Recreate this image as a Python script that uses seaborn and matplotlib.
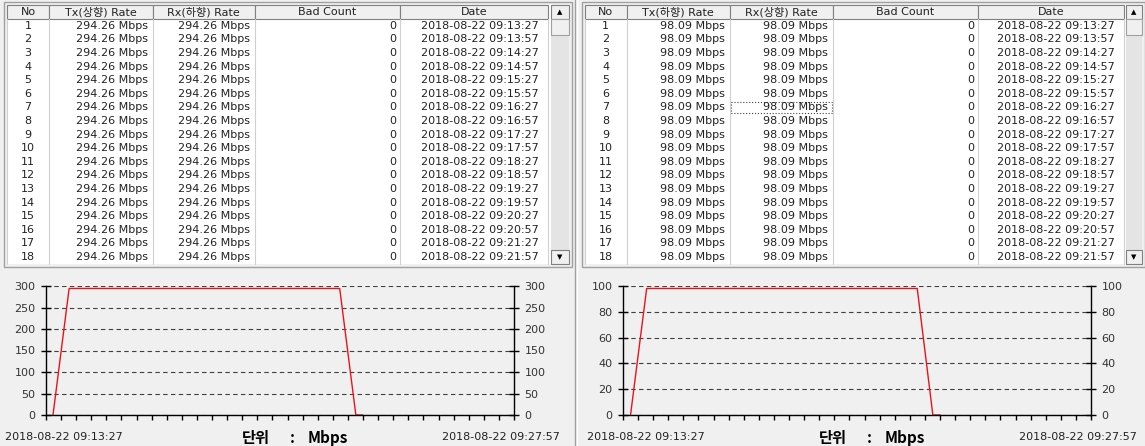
import numpy as np
import pandas as pd
import matplotlib
matplotlib.use("Agg")
import matplotlib.pyplot as plt
from matplotlib.patches import Rectangle
import seaborn as sns

# table rows (both panels list the same 18 samples)
row_no = [1, 2, 3, 4, 5, 6, 7, 8, 9, 10, 11, 12, 13, 14, 15, 16, 17, 18]
row_dates = [
    "2018-08-22 09:13:27", "2018-08-22 09:13:57", "2018-08-22 09:14:27",
    "2018-08-22 09:14:57", "2018-08-22 09:15:27", "2018-08-22 09:15:57",
    "2018-08-22 09:16:27", "2018-08-22 09:16:57", "2018-08-22 09:17:27",
    "2018-08-22 09:17:57", "2018-08-22 09:18:27", "2018-08-22 09:18:57",
    "2018-08-22 09:19:27", "2018-08-22 09:19:57", "2018-08-22 09:20:27",
    "2018-08-22 09:20:57", "2018-08-22 09:21:27", "2018-08-22 09:21:57",
]
bad_count = [0] * 18
left_tx = [294.26] * 18
left_rx = [294.26] * 18
right_tx = [98.09] * 18
right_rx = [98.09] * 18

left_headers = ["No", "Tx(상향) Rate", "Rx(하향) Rate", "Bad Count", "Date"]
right_headers = ["No", "Tx(하향) Rate", "Rx(상향) Rate", "Bad Count", "Date"]

# chart traces
chart_start = "2018-08-22 09:13:27"
chart_end = "2018-08-22 09:27:57"
left_times = ["2018-08-22 09:13:40", "2018-08-22 09:14:10", "2018-08-22 09:22:33",
              "2018-08-22 09:23:03", "2018-08-22 09:23:16"]
left_rate = [0, 294.26, 294.26, 0, 0]
right_times = ["2018-08-22 09:13:41", "2018-08-22 09:14:11", "2018-08-22 09:22:34",
               "2018-08-22 09:23:03", "2018-08-22 09:23:17"]
right_rate = [0, 98.09, 98.09, 0, 0]
left_yticks = [0, 50, 100, 150, 200, 250, 300]
right_yticks = [0, 20, 40, 60, 80, 100]
unit_parts = ["단위", ":", "Mbps"]

sns.set_theme(style="white")
plt.rcParams["font.family"] = ["DejaVu Sans", "Noto Sans CJK KR"]

W, H = 1145, 446
BG = "#f0f0f0"
TXT = "#222222"
fig = plt.figure(figsize=(W / 100, H / 100), dpi=100, facecolor=BG)
bg = fig.add_axes([0, 0, 1, 1])
bg.set_xlim(0, W)
bg.set_ylim(H, 0)
bg.axis("off")

TOP, HEAD_H, ROW_H = 5, 14, 13.6
BODY_TOP = TOP + HEAD_H
BODY_BOT = BODY_TOP + 18 * ROW_H


def draw_table(edges, sb, headers, tx, rx, focus_row=None):
    x_left = edges[0]
    # outer frame
    bg.add_patch(Rectangle((x_left - 3, TOP - 3), sb[1] - x_left + 6, BODY_BOT - TOP + 6,
                           fc="none", ec="#a0a0a0", lw=1))
    bg.add_patch(Rectangle((x_left, BODY_TOP), sb[0] - x_left, BODY_BOT - BODY_TOP,
                           fc="white", ec="none"))
    bg.add_patch(Rectangle((x_left, TOP), sb[0] - x_left, HEAD_H, fc="white", ec="none"))
    for i, lab in enumerate(headers):
        a, b = edges[i], edges[i + 1]
        bg.add_patch(Rectangle((a, TOP), b - a, HEAD_H, fc=BG, ec="#808080", lw=0.8))
        bg.text((a + b) / 2, TOP + HEAD_H / 2, lab, ha="center", va="center",
                fontsize=8, color=TXT)
    for xe in edges:
        bg.plot([xe, xe], [BODY_TOP, BODY_BOT], color="#d0d0d0", lw=0.8)
    for r in range(len(row_no)):
        yc = BODY_TOP + (r + 0.5) * ROW_H
        kw = dict(va="center", fontsize=8, color=TXT)
        bg.text((edges[0] + edges[1]) / 2, yc, str(row_no[r]), ha="center", **kw)
        bg.text(edges[2] - 5, yc, f"{tx[r]:.2f} Mbps", ha="right", **kw)
        bg.text(edges[3] - 5, yc, f"{rx[r]:.2f} Mbps", ha="right", **kw)
        bg.text(edges[4] - 4, yc, str(bad_count[r]), ha="right", **kw)
        bg.text(edges[5] - 9, yc, row_dates[r], ha="right", **kw)
    if focus_row is not None:
        y0 = BODY_TOP + (focus_row - 1) * ROW_H + 1
        bg.add_patch(Rectangle((edges[2] + 1, y0), edges[3] - edges[2] - 2, ROW_H - 2,
                               fc="none", ec="#404040", ls=":", lw=0.8))
    # scrollbar
    w = sb[1] - sb[0]
    bg.add_patch(Rectangle((sb[0], BODY_TOP), w, BODY_BOT - BODY_TOP, fc="#e4e4e4", ec="none"))
    bg.add_patch(Rectangle((sb[0], TOP), w, HEAD_H, fc=BG, ec="#808080", lw=0.8))
    bg.text(sb[0] + w / 2, TOP + HEAD_H / 2, "▲", ha="center", va="center", fontsize=5, color="black")
    bg.add_patch(Rectangle((sb[0], BODY_TOP), w, 16, fc=BG, ec="#a0a0a0", lw=0.8))
    bg.add_patch(Rectangle((sb[0], BODY_BOT - 14), w, 14, fc=BG, ec="#808080", lw=0.8))
    bg.text(sb[0] + w / 2, BODY_BOT - 7, "▼", ha="center", va="center", fontsize=5, color="black")


def draw_chart(x0, x1, times, rates, yticks, label_x):
    ax = fig.add_axes([x0 / W, 1 - 415 / H, (x1 - x0) / W, (415 - 286) / H])
    ax.set_facecolor("none")
    t0 = pd.Timestamp(chart_start)
    total = (pd.Timestamp(chart_end) - t0).total_seconds()
    secs = (pd.to_datetime(times) - t0).total_seconds().to_numpy()
    ax.set_axisbelow(True)
    sns.lineplot(x=secs, y=rates, ax=ax, color="#e8141c", lw=1)
    ax.set_xlim(0, total)
    ax.set_ylim(0, yticks[-1])
    ax.set_yticks(yticks)
    ax.set_xticks(np.linspace(0, total, 32))
    ax.set_xticklabels([])
    ax.set_xlabel("")
    ax.set_ylabel("")
    ax.grid(axis="y", ls=(0, (4, 3)), color="#404040", lw=0.8)
    ax.grid(axis="x", visible=False)
    ax.spines["top"].set_visible(False)
    for s in ["left", "right", "bottom"]:
        ax.spines[s].set_color("black")
        ax.spines[s].set_linewidth(1)
    ax.tick_params(axis="y", left=True, right=True, labelleft=True, labelright=True,
                   direction="inout", length=7, width=1, color="black",
                   labelsize=8, labelcolor="#333333", pad=4)
    ax.tick_params(axis="x", bottom=True, direction="out", length=3.5, width=1, color="black")
    lx0, lc, lx1 = label_x
    bg.text(lx0, 437, chart_start, ha="left", va="center", fontsize=8, color=TXT)
    ukw = dict(va="center", fontsize=11, fontweight="bold",
               family=["Noto Sans CJK KR", "DejaVu Sans"], color="black")
    bg.text(lc - 24, 438, unit_parts[0], ha="right", **ukw)
    bg.text(lc - 2, 438, unit_parts[1], ha="center", **ukw)
    bg.text(lc + 14, 438, unit_parts[2], ha="left", **ukw)
    bg.text(lx1, 437, chart_end, ha="right", va="center", fontsize=8, color=TXT)


draw_table([7, 49, 152.5, 255, 400, 548], (550.5, 569), left_headers, left_tx, left_rx)
draw_table([585, 626.5, 730, 833, 978, 1124], (1125.5, 1142), right_headers, right_tx, right_rx,
           focus_row=7)

bg.plot([575, 575], [0, H], color="#a0a0a0", lw=1)
bg.plot([577, 577], [0, H], color="white", lw=1)

draw_chart(46, 514, left_times, left_rate, left_yticks, (5, 294, 560))
draw_chart(623, 1091, right_times, right_rate, right_yticks, (587, 871, 1137))

fig.savefig("out.png", dpi=100, facecolor=BG)
